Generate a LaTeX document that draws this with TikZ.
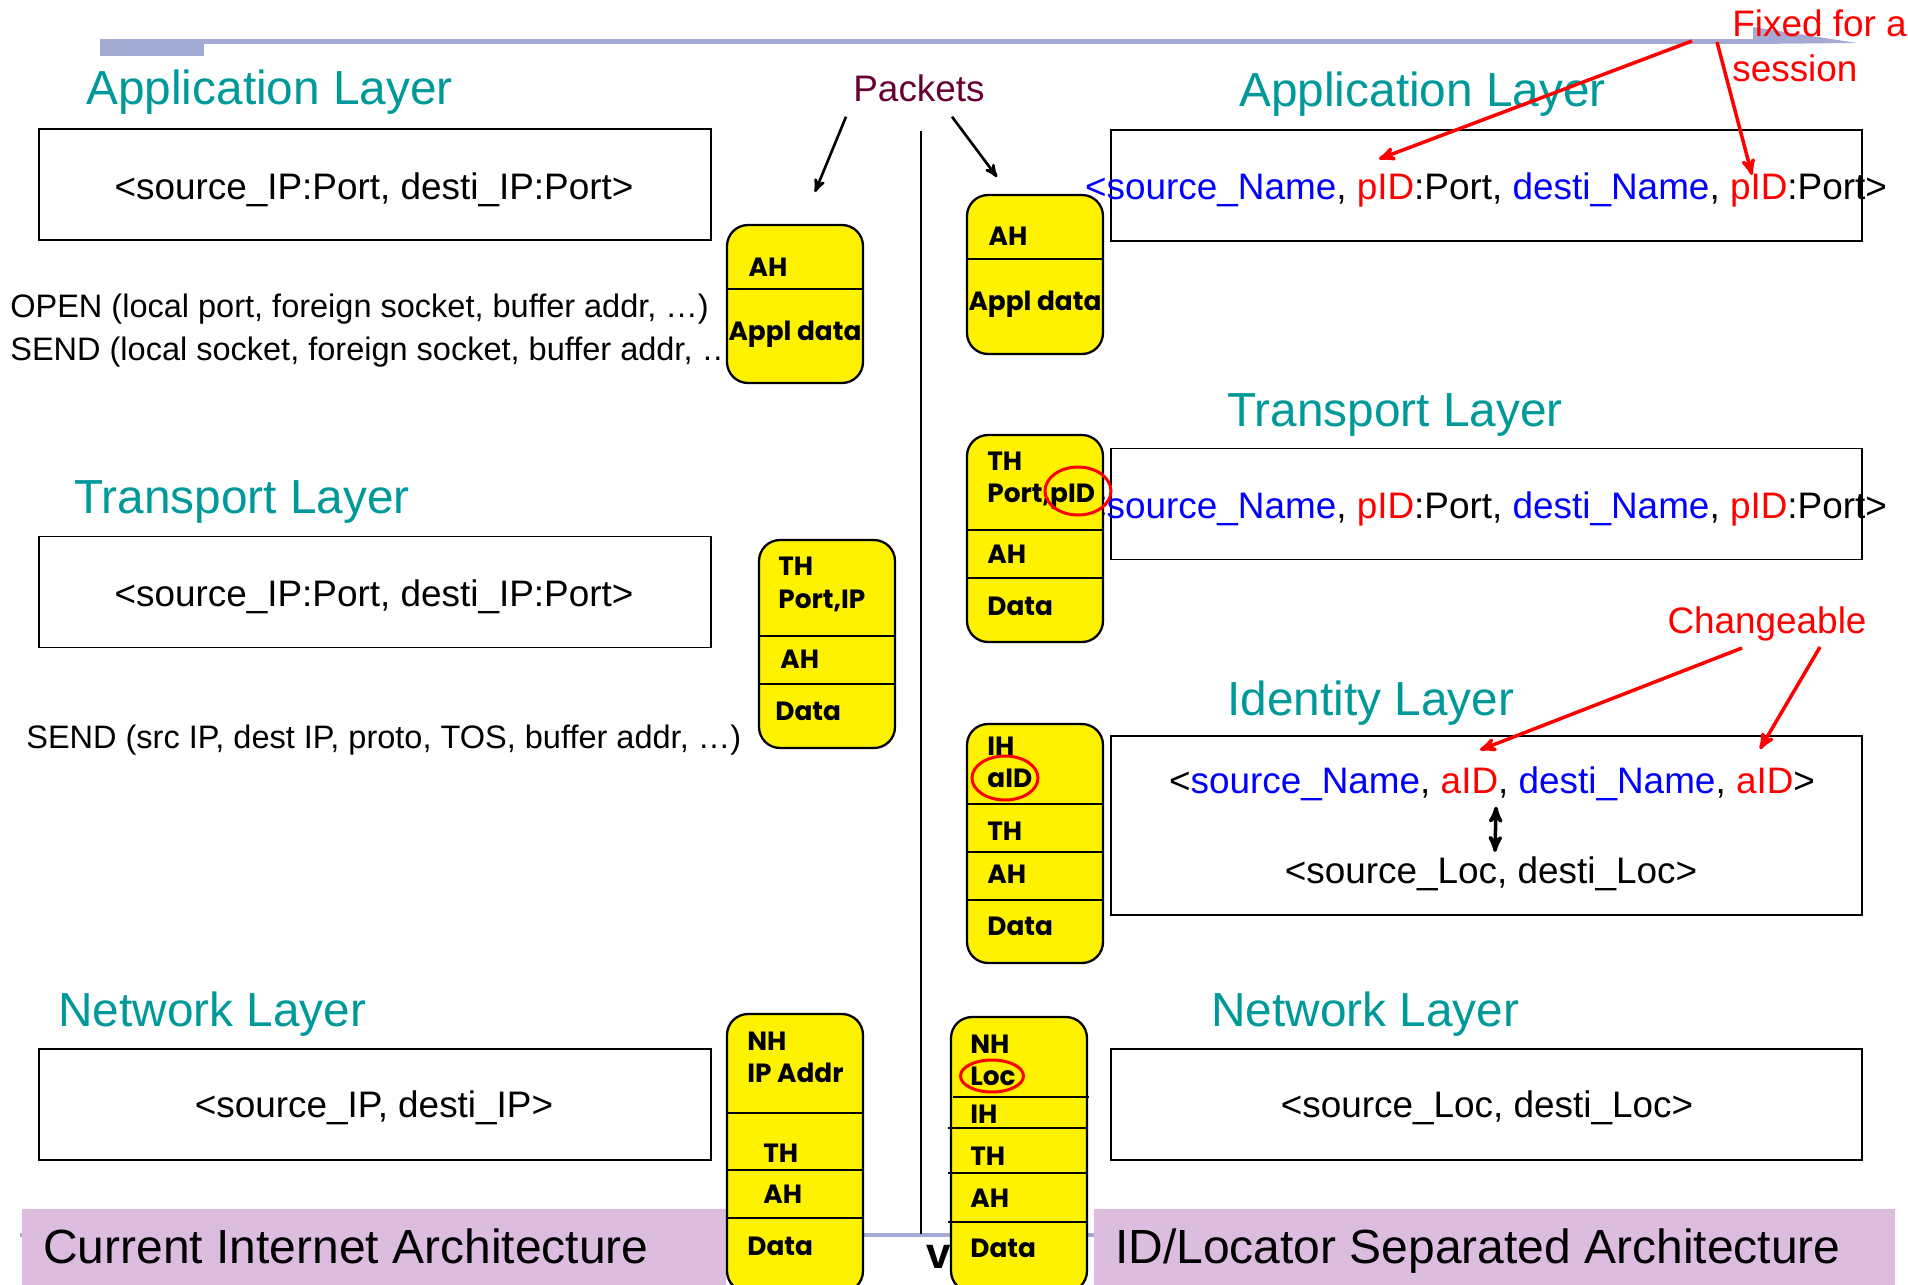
\documentclass[tikz,border=0pt]{standalone}
\usepackage{fontspec}
\setmainfont{Liberation Sans}
\newfontfamily\pktfont{Poppins}
\usepackage{xcolor}
\usetikzlibrary{shapes}
\usetikzlibrary{arrows}
\definecolor{layerteal}{RGB}{0,153,153}
\definecolor{pktmaroon}{RGB}{102,0,51}
\definecolor{barlav}{RGB}{163,170,211}
\definecolor{titlelav}{RGB}{221,189,223}
\newcommand{\nm}[1]{\textcolor{blue}{#1}}
\newcommand{\rd}[1]{\textcolor{red}{#1}}
\tikzset{
	layername/.style={anchor=base west,inner sep=0pt,text=layerteal,font=\fontsize{27.2}{31}\selectfont},
	addrbox/.style={draw,line width=1.1pt,minimum height=2.22cm},
	curbox/.style={addrbox,minimum width=13.44cm},
	sepbox/.style={addrbox,minimum width=15.02cm},
	addr/.style={anchor=base,inner sep=0pt,font=\fontsize{21}{25}\selectfont},
	call/.style={anchor=base west,inner sep=0pt,font=\fontsize{18.5}{22}\selectfont},
	packet/.style={draw,fill=yellow,line width=1.3pt,rounded corners=0.42cm,minimum width=2.72cm},
	divider/.style={line width=1.1pt},
	hdr/.style={anchor=base west,inner sep=0pt,font=\pktfont\bfseries\fontsize{15}{17}\selectfont},
	hdrc/.style={hdr,anchor=base},
	ring/.style={ellipse,draw=red,line width=1.7pt},
	note/.style={inner sep=0pt,text=red,font=\fontsize{21}{26}\selectfont},
	pktarrow/.style={->,line width=1.5pt},
	redarrow/.style={->,draw=red,line width=2pt},
	bannertext/.style={anchor=base west,inner sep=0pt,font=\fontsize{27.3}{32}\selectfont}
}

\begin{document}
\begin{tikzpicture}[x=0.02cm,y=-0.02cm,>=stealth']
	\useasboundingbox (0,0) rectangle (1908,1285);
	\fill[barlav] (100,39) rectangle (1757,44);
	\fill[barlav] (100,39) rectangle (204,56);
	\fill[barlav] (1753,27) -- (1857,43) -- (1753,44) -- cycle;
	\draw[barlav,line width=2.3pt] (20,1235) -- (1890,1235);
	\draw[line width=1.1pt] (921,131) -- (921,1234);
	\fill[titlelav] (22,1209) rectangle (726,1290);
	\fill[titlelav] (1094,1209) rectangle (1895,1290);
	\node[bannertext] (curTitle) at (43,1263) {Current Internet Architecture};
	\node[bannertext] (sepTitle) at (1115,1263) {ID/Locator Separated Architecture};
	\node[anchor=base west,inner sep=0pt,font=\bfseries\fontsize{25}{28}\selectfont] (vsTxt) at (926,1268) {vs};

	\node[layername] (curAppLbl) at (86,104) {Application Layer};
	\node[layername] (sepAppLbl) at (1239,106) {Application Layer};
	\node[layername] (curTransLbl) at (74,513) {Transport Layer};
	\node[layername] (sepTransLbl) at (1227,426) {Transport Layer};
	\node[layername] (sepIdLbl) at (1227,715) {Identity Layer};
	\node[layername] (curNetLbl) at (58,1026) {Network Layer};
	\node[layername] (sepNetLbl) at (1211,1026) {Network Layer};

	\node[curbox] (curApp) at (375,184.5) {};
	\node[curbox] (curTrans) at (375,592) {};
	\node[curbox] (curNet) at (375,1104.5) {};
	\node[sepbox] (sepApp) at (1486.5,185.5) {};
	\node[sepbox] (sepTrans) at (1486.5,504) {};
	\node[sepbox,minimum height=3.58cm] (sepId) at (1486.5,825.5) {};
	\node[sepbox] (sepNet) at (1486.5,1104.5) {};

	\node[addr] (curAppTxt) at (374,199) {<source\_IP:Port, desti\_IP:Port>};
	\node[addr] (curTransTxt) at (374,606) {<source\_IP:Port, desti\_IP:Port>};
	\node[addr] (curNetTxt) at (374,1117) {<source\_IP, desti\_IP>};
	\node[addr] (sepTransTxt) at (1486,518) {\nm{<source\_Name}, \rd{pID}:Port, \nm{desti\_Name}, \rd{pID}:Port>};
	\node[addr] (sepIdName) at (1492,793) {<\nm{source\_Name}, \rd{aID}, \nm{desti\_Name}, \rd{aID}>};
	\node[addr] (sepIdLoc) at (1491,883) {<source\_Loc, desti\_Loc>};
	\node[addr] (sepNetTxt) at (1487,1117) {<source\_Loc, desti\_Loc>};
	\draw[<->,line width=2pt] ([xshift=0.08cm,yshift=-0.12cm]sepIdName.south) -- ([xshift=0.08cm,yshift=0.08cm]sepIdLoc.north);

	\node[call] (openCall) at (10,317) {OPEN (local port, foreign socket, buffer addr, …)};
	\node[call] (sendCall) at (10,360) {SEND (local socket, foreign socket, buffer addr, …)};
	\node[call] (ipSendCall) at (26,748) {SEND (src IP, dest IP, proto, TOS, buffer addr, …)};

	\node[packet,minimum height=3.16cm] (appL) at (795,304) {};
	\draw[divider] (appL.west |- 0,289) -- (appL.east |- 0,289);
	\node[hdrc] (appLah) at (768,276) {AH};
	\node[hdrc] (appLdata) at (795,340) {Appl data};

	\node[packet,minimum height=4.16cm] (trL) at (827,644) {};
	\draw[divider] (trL.west |- 0,636) -- (trL.east |- 0,636);
	\draw[divider] (trL.west |- 0,684) -- (trL.east |- 0,684);
	\node[hdr] (trLth) at (778,575) {TH};
	\node[hdr] (trLport) at (778,608) {Port,IP};
	\node[hdr] (trLah) at (780,668) {AH};
	\node[hdr] (trLdata) at (775,720) {Data};

	\node[packet,minimum height=5.56cm] (netL) at (795,1153) {};
	\draw[divider] (netL.west |- 0,1113) -- (netL.east |- 0,1113);
	\draw[divider] (netL.west |- 0,1170) -- (netL.east |- 0,1170);
	\draw[divider] (netL.west |- 0,1218) -- (netL.east |- 0,1218);
	\node[hdr] (netLnh) at (747,1050) {NH};
	\node[hdr] (netLip) at (747,1082) {IP Addr};
	\node[hdr] (netLth) at (763,1162) {TH};
	\node[hdr] (netLah) at (763,1203) {AH};
	\node[hdr] (netLdata) at (747,1255) {Data};

	\node[packet,minimum height=3.18cm] (appR) at (1035,274.5) {};
	\draw[divider] (appR.west |- 0,259) -- (appR.east |- 0,259);
	\node[hdrc] (appRah) at (1008,245) {AH};
	\node[hdrc] (appRdata) at (1035,310) {Appl data};

	\node[packet,minimum height=4.14cm] (trR) at (1035,538.5) {};
	\draw[divider] (trR.west |- 0,530) -- (trR.east |- 0,530);
	\draw[divider] (trR.west |- 0,578) -- (trR.east |- 0,578);
	\node[hdr] (trRth) at (987,470) {TH};
	\node[hdr] (trRport) at (987,502) {Port,pID};
	\node[hdr] (trRah) at (987,563) {AH};
	\node[hdr] (trRdata) at (987,615) {Data};

	\node[packet,minimum height=4.78cm] (idR) at (1035,843.5) {};
	\draw[divider] (idR.west |- 0,804) -- (idR.east |- 0,804);
	\draw[divider] (idR.west |- 0,852) -- (idR.east |- 0,852);
	\draw[divider] (idR.west |- 0,900) -- (idR.east |- 0,900);
	\node[hdr] (idRih) at (987,755) {IH};
	\node[hdr] (idRaid) at (987,787) {aID};
	\node[hdr] (idRth) at (987,840) {TH};
	\node[hdr] (idRah) at (987,883) {AH};
	\node[hdr] (idRdata) at (987,935) {Data};

	\node[packet,minimum height=5.5cm] (netR) at (1019,1154.5) {};
	\draw[divider] (953,1097) -- (1089,1097);
	\draw[divider] (948,1128) -- (netR.east |- 0,1128);
	\draw[divider] (948,1173) -- (netR.east |- 0,1173);
	\draw[divider] (948,1222) -- (netR.east |- 0,1222);
	\node[hdr] (netRnh) at (970,1053) {NH};
	\node[hdr] (netRloc) at (970,1085) {Loc};
	\node[hdr] (netRih) at (970,1123) {IH};
	\node[hdr] (netRth) at (970,1165) {TH};
	\node[hdr] (netRah) at (970,1207) {AH};
	\node[hdr] (netRdata) at (970,1257) {Data};

	\node[ring,minimum width=1.32cm,minimum height=0.96cm] (pidRing) at (1078,491) {};
	\node[ring,minimum width=1.32cm,minimum height=0.88cm] (aidRing) at (1005,778) {};
	\node[ring,minimum width=1.26cm,minimum height=0.64cm] (locRing) at (992,1076) {};

	\node[addr] (sepAppTxt) at (1486,199) {\nm{<source\_Name}, \rd{pID}:Port, \nm{desti\_Name}, \rd{pID}:Port>};

	\node[anchor=base,inner sep=0pt,text=pktmaroon,font=\fontsize{21}{25}\selectfont] (packets) at (919,101) {Packets};
	\coordinate (pktTipL) at (815,192);
	\coordinate (pktTipR) at (997,177);
	\draw[pktarrow] ([xshift=-1.46cm,yshift=-0.3cm]packets.south) -- (pktTipL);
	\draw[pktarrow] ([xshift=0.66cm,yshift=-0.3cm]packets.south) -- (pktTipR);

	\node[note,anchor=north west,align=left] (fixed) at (1732,9) {Fixed for a\\session};
	\coordinate (pidTipA) at (1379,159);
	\coordinate (pidTipB) at (1752,175);
	\draw[redarrow] ([xshift=-0.8cm,yshift=-0.64cm]fixed.north west) -- (pidTipA);
	\draw[redarrow] ([xshift=-0.3cm,yshift=-0.66cm]fixed.north west) -- (pidTipB);

	\node[note,anchor=base] (change) at (1767,633) {Changeable};
	\coordinate (aidTipA) at (1480,750);
	\coordinate (aidTipB) at (1760,749);
	\draw[redarrow] ([xshift=-0.5cm,yshift=-0.14cm]change.south) -- (aidTipA);
	\draw[redarrow] ([xshift=1.06cm,yshift=-0.12cm]change.south) -- (aidTipB);
\end{tikzpicture}
\end{document}
